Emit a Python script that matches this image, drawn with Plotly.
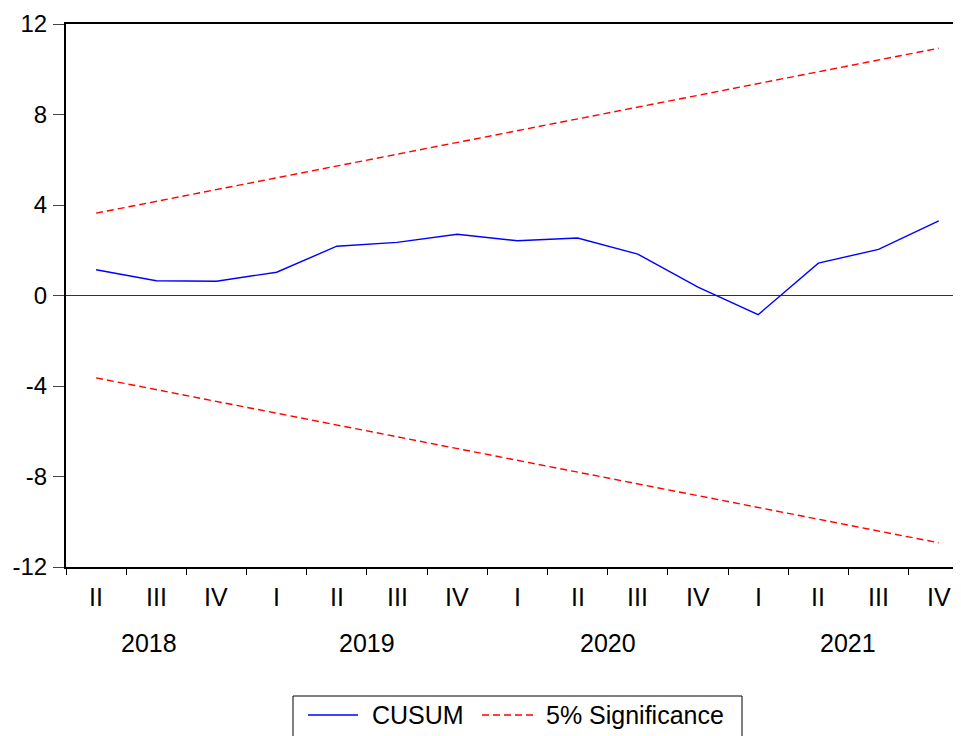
import plotly.graph_objects as go

quarters = ["II", "III", "IV", "I", "II", "III", "IV", "I", "II", "III", "IV", "I", "II", "III", "IV"]
years = ["2018", "2019", "2020", "2021"]
year_quarter_counts = [3, 4, 4, 4]
cusum = [1.14, 0.65, 0.63, 1.03, 2.18, 2.35, 2.71, 2.42, 2.54, 1.83, 0.37, -0.85, 1.43, 2.04, 3.30]
upper = [3.64, 4.16, 4.68, 5.20, 5.72, 6.25, 6.77, 7.29, 7.81, 8.33, 8.85, 9.37, 9.89, 10.41, 10.93]
lower = [-v for v in upper]
y_ticks = [-12, -8, -4, 0, 4, 8, 12]
y_tick_text = ["-12", "-8", "-4", "0", "4", "8", "12"]
series_names = ["CUSUM", "5% Significance"]
series_colors = ["#0000ff", "#ff0000"]
DASH = "7px,4px"

xs = list(range(len(quarters)))
FONT = "Liberation Sans, Arial, sans-serif"
FS = 25

fig = go.Figure()
fig.add_trace(go.Scatter(x=xs, y=cusum, mode="lines", name=series_names[0], showlegend=False,
                         line=dict(color=series_colors[0], width=1.4)))
fig.add_trace(go.Scatter(x=xs, y=upper, mode="lines", name=series_names[1], showlegend=False,
                         line=dict(color=series_colors[1], width=1.4, dash=DASH)))
fig.add_trace(go.Scatter(x=xs, y=lower, mode="lines", name="lower", showlegend=False,
                         line=dict(color=series_colors[1], width=1.4, dash=DASH)))

# year boundaries and quarter boundaries
year_bounds = [-0.5]
for c in year_quarter_counts:
    year_bounds.append(year_bounds[-1] + c)
quarter_bounds = [i - 0.5 for i in range(len(quarters) + 1)]

annotations = []
for i, q in enumerate(quarters):
    annotations.append(dict(x=i, y=0, xref="x", yref="paper", text=q, showarrow=False,
                            yanchor="middle", yshift=-30, font=dict(family=FONT, size=FS, color="black")))
start = 0
for k, (yr, c) in enumerate(zip(years, year_quarter_counts)):
    center = start + (c - 1) / 2
    annotations.append(dict(x=center, y=0, xref="x", yref="paper", text=yr, showarrow=False,
                            xshift=-7 if k == 0 else 0,
                            yanchor="middle", yshift=-76, font=dict(family=FONT, size=FS, color="black")))
    start += c

# Figure is offset by the page body's 8px margin.
OFF = 8
ML, MT, PW, PH = 58, 16, 895, 543


def px(xp):
    return (xp - OFF - ML) / PW


def py(yp):
    return 1 - (yp - OFF - MT) / PH


# Manual legend (a Plotly legend would push the bottom margin)
shapes = [
    dict(type="rect", xref="paper", yref="paper", x0=px(293), x1=px(742), y0=py(760), y1=py(696),
         line=dict(color="black", width=1), fillcolor="white", layer="above"),
    dict(type="line", xref="paper", yref="paper", x0=px(308), x1=px(358), y0=py(715), y1=py(715),
         line=dict(color=series_colors[0], width=1.4)),
    dict(type="line", xref="paper", yref="paper", x0=px(482), x1=px(533), y0=py(715), y1=py(715),
         line=dict(color=series_colors[1], width=1.4, dash=DASH)),
]
annotations.append(dict(x=px(370), y=py(715), xref="paper", yref="paper", text=series_names[0],
                        showarrow=False, xanchor="left", yanchor="middle",
                        font=dict(family=FONT, size=FS, color="black")))
annotations.append(dict(x=px(544), y=py(715), xref="paper", yref="paper", text=series_names[1],
                        showarrow=False, xanchor="left", yanchor="middle",
                        font=dict(family=FONT, size=FS, color="black")))

fig.update_layout(
    width=953, height=728,
    margin=dict(l=ML, r=0, t=MT, b=728 - MT - PH),
    paper_bgcolor="white", plot_bgcolor="white",
    font=dict(family=FONT, size=FS, color="black"),
    showlegend=False,
    annotations=annotations,
    shapes=shapes,
    xaxis=dict(range=[-0.5, 14.37], showgrid=False, zeroline=False,
               showline=True, linecolor="black", linewidth=2, mirror=True,
               tickmode="array", tickvals=year_bounds, ticktext=["" for _ in year_bounds],
               ticks="outside", ticklen=12, tickcolor="black", tickwidth=1,
               minor=dict(tickvals=quarter_bounds, ticklen=6, tickcolor="black",
                          tickwidth=1, ticks="outside", showgrid=False)),
    yaxis=dict(range=[-12, 12], showgrid=False, zeroline=True, zerolinecolor="#333333",
               zerolinewidth=1, showline=True, linecolor="black", linewidth=2,
               tickmode="array", tickvals=y_ticks, ticktext=y_tick_text,
               ticks="outside", ticklen=11, tickcolor="#444444", tickwidth=1,
               tickfont=dict(family=FONT, size=24, color="black"),
               ticklabelstandoff=1),
)

fig.write_html("out.html")
